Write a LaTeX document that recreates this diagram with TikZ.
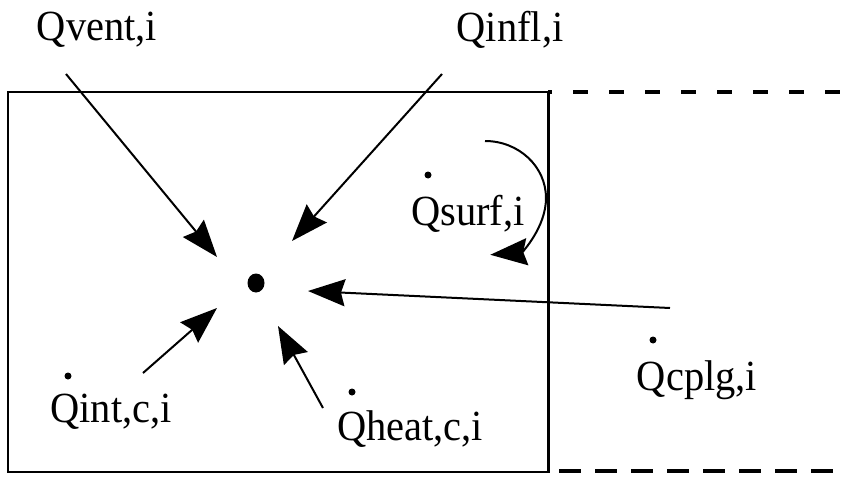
\documentclass[tikz,border=0pt]{standalone}
\usepackage{fontspec}
\setmainfont{Liberation Serif}[FakeStretch=0.94]
\usetikzlibrary{arrows.meta,shapes.geometric}

\begin{document}
\begin{tikzpicture}[
        x=1pt, y=-1pt,
        flow/.style={-{Stealth[length=37pt, width=27pt, inset=4pt]}, line width=2pt},
        heat/.style={font=\fontsize{43}{43}\selectfont, inner sep=0pt, anchor=base},
        qdot/.style={circle, fill, inner sep=0pt, minimum size=7pt},
        wall/.style={line width=2.2pt},
        open/.style={line width=4pt}
    ]
        \useasboundingbox (0,0) rectangle (845,476);

        % Zone
        \draw[wall] (8,92) rectangle (548,472);
        \draw[line width=3pt] (548,92) -- (548,473);
        \draw[open, dash pattern=on 15pt off 21pt, dash phase=11pt] (548,92) -- (845,92);
        \draw[open, dash pattern=on 22pt off 14pt, dash phase=25pt] (548,471) -- (845,471);

        % Zone air node
        \node[ellipse, fill, minimum width=17pt, minimum height=19pt, inner sep=0pt] (air) at (256,283) {};

        % Heat flows
        \node[heat] (vent) at (97,41) {Qvent,i};
        \node[heat] (infl) at (510,42) {Qinfl,i};
        \node[heat] (surf) at (468,225) {Qsurf,i};
        \node[heat] (intc) at (111,422) {Qint,c,i};
        \node[heat] (heatc) at (410,440) {Qheat,c,i};
        \node[heat] (cplg) at (697,390) {Qcplg,i};

        % Dots over Q
        \node[qdot] (surfdot) at (428,175) {};
        \node[qdot] (intcdot) at (68,376) {};
        \node[qdot] (heatcdot) at (352,392) {};
        \node[qdot] (cplgdot) at (653,340) {};

        % Arrow ends
        \coordinate (ventin) at (66,74);
        \coordinate (ventout) at (217,257);
        \coordinate (inflin) at (442,74);
        \coordinate (inflout) at (292,241);
        \coordinate (cplgin) at (670,308);
        \coordinate (cplgout) at (308,291);
        \coordinate (intcin) at (143,373);
        \coordinate (intcout) at (217,308);
        \coordinate (heatcin) at (323,408);
        \coordinate (heatcout) at (278,326);
        \coordinate (surfin) at (485,141);

        % Arrows
        \draw[flow] (ventin) -- (ventout);
        \draw[flow] (inflin) -- (inflout);
        \draw[flow] (cplgin) -- (cplgout);
        \draw[flow] (intcin) -- (intcout);
        \draw[flow] (heatcin) -- (heatcout);
        \draw[flow] (surfin) arc[start angle=-90, end angle=85, x radius=61, y radius=57];
    \end{tikzpicture}
\end{document}
